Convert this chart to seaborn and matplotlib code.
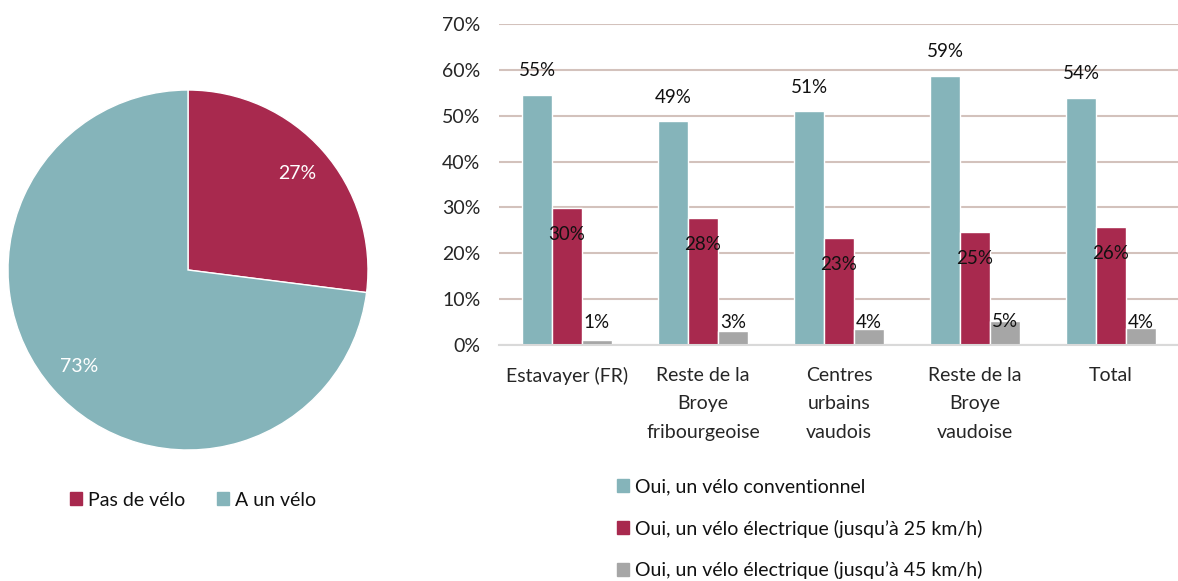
import pandas as pd
import matplotlib.pyplot as plt
import seaborn as sns
from matplotlib.patches import Patch

# Pie data
pie_labels = ["Pas de vélo", "A un vélo"]
pie_values = [27, 73]

# Bar data
regions = ["Estavayer (FR)", "Reste de la\nBroye\nfribourgeoise", "Centres\nurbains\nvaudois",
           "Reste de la\nBroye\nvaudoise", "Total"]
series = ["Oui, un vélo conventionnel",
          "Oui, un vélo électrique (jusqu’à 25 km/h)",
          "Oui, un vélo électrique (jusqu’à 45 km/h)"]
conventionnel = [54.6, 48.8, 51.0, 58.7, 53.9]
electrique_25 = [29.9, 27.7, 23.3, 24.6, 25.7]
electrique_45 = [1.1, 3.1, 3.5, 5.2, 3.7]
bar_labels = [[55, 49, 51, 59, 54], [30, 28, 23, 25, 26], [1, 3, 4, 5, 4]]

teal = "#85B4BA"
red = "#A8294E"
grey = "#A6A6A6"
colors = [teal, red, grey]

sns.set_theme(style="white")
plt.rcParams['font.family'] = ['Lato', 'DejaVu Sans']
plt.rcParams['text.color'] = '#111111'
FS = 14

df = pd.DataFrame({
    "region": regions * 3,
    "serie": [s for s in series for _ in regions],
    "value": conventionnel + electrique_25 + electrique_45,
})

fig = plt.figure(figsize=(11.78, 5.81), dpi=100)

# Pie chart
ax_pie = fig.add_axes([8 / 1178, 1 - 450 / 581, 360 / 1178, 360 / 581])
wedges, _, autotexts = ax_pie.pie(pie_values, colors=[red, teal], startangle=90, counterclock=False,
                                  autopct=lambda p: f"{p:.0f}%", pctdistance=0.81,
                                  textprops=dict(color="white", fontsize=FS))
ax_pie.set_xlim(-1, 1)
ax_pie.set_ylim(-1, 1)
ax_pie.set_aspect("equal")
fig.legend(handles=[Patch(color=red, label=pie_labels[0]), Patch(color=teal, label=pie_labels[1])],
           loc="center", bbox_to_anchor=(193 / 1178, 1 - 500 / 581), ncol=2, frameon=False,
           fontsize=FS, handlelength=0.65, handleheight=0.65, handletextpad=0.3, columnspacing=1.6)

# Bar chart
ax = fig.add_axes([499 / 1178, 1 - 345 / 581, 680 / 1178, 321 / 581])
sns.barplot(data=df, x="region", y="value", hue="serie", palette=colors, width=0.66, gap=0,
            saturation=1, ax=ax, legend=False)
ax.set_ylim(0, 70)
ax.set_xlim(-0.5, 4.5)
ax.set_yticks(range(0, 71, 10))
ax.set_yticklabels([f"{v}%" for v in range(0, 71, 10)], fontsize=FS)
ax.set_xticks(range(len(regions)))
ax.set_xticklabels(regions, fontsize=FS, linespacing=1.8, va="top")
ax.set_xlabel("")
ax.set_ylabel("")
ax.tick_params(axis="y", length=0, pad=13.5)
ax.tick_params(axis="x", length=0, pad=16)
ax.yaxis.grid(True, color="#D3C2BC", linewidth=1.5)
ax.set_axisbelow(True)
for side in ["left", "right", "top"]:
    ax.spines[side].set_visible(False)
ax.spines["bottom"].set_color("#D9D9D9")
ax.spines["bottom"].set_linewidth(1.5)

# Data labels (placed like the original: above, inside, and at a fixed low level)
for k, vals in enumerate([conventionnel, electrique_25, electrique_45]):
    for i, v in enumerate(vals):
        x = i + (k - 1) * 0.22
        if k == 0:
            y = v + 5.2
        elif k == 1:
            y = v - 5.7
        else:
            y = max(v, 5.0)
        ax.text(x, y, f"{bar_labels[k][i]}%", ha="center", va="center",
                fontsize=13.5, color="#111111")

ax.legend(handles=[Patch(color=c, label=s) for c, s in zip(colors, series)],
          loc="upper left", bbox_to_anchor=(609 / 1178, 1 - 471 / 581), bbox_transform=fig.transFigure,
          frameon=False, fontsize=FS, handlelength=0.65, handleheight=0.65, handletextpad=0.3,
          labelspacing=1.22, borderaxespad=0)

fig.savefig("out.png", dpi=100)
